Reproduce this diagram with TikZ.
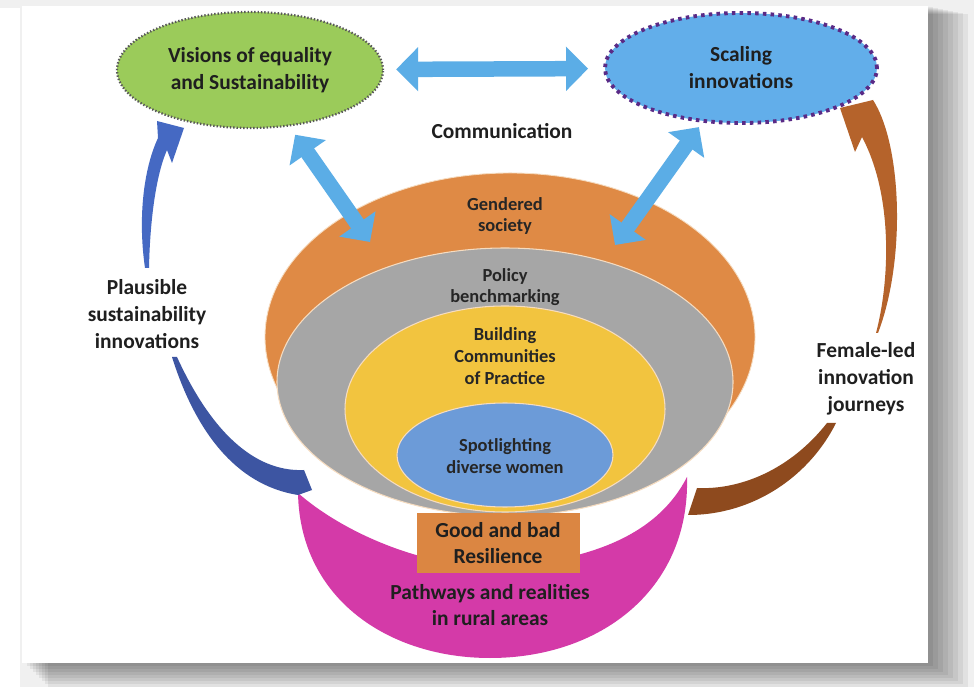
\documentclass[tikz,border=0pt]{standalone}
\usepackage{fontspec}
\setmainfont{Carlito}
\usetikzlibrary{shapes.geometric,arrows.meta,positioning}

\definecolor{leaf}{HTML}{9BCB5A}
\definecolor{sky}{HTML}{62AEEA}
\definecolor{plum}{HTML}{5A2A86}
\definecolor{commblue}{HTML}{5BADE6}
\definecolor{rust}{HTML}{DF8A45}
\definecolor{stone}{HTML}{A6A6A6}
\definecolor{sun}{HTML}{F2C43F}
\definecolor{steel}{HTML}{6C9BD8}
\definecolor{orchid}{HTML}{D43AA8}
\definecolor{boxorange}{HTML}{DB8642}
\definecolor{navyA}{HTML}{4569C3}
\definecolor{navyB}{HTML}{3D55A2}
\definecolor{brownA}{HTML}{B5632B}
\definecolor{brownB}{HTML}{8E4A1E}
\definecolor{rim}{HTML}{F6DCC0}

\tikzset{
  bigtext/.style={font=\fontsize{12.2}{15.3}\selectfont\bfseries, text=black!88, align=center},
  smalltext/.style={font=\fontsize{10.5}{12.3}\selectfont\bfseries, text=black!85, align=center},
  goal/.style={ellipse, inner sep=0pt, bigtext},
  comm/.style={commblue, line width=3.1mm,
    {Triangle[width=8.6mm,length=4.4mm]}-{Triangle[width=8.6mm,length=4.4mm]}}
}

\begin{document}
\begin{tikzpicture}[x=0.2mm, y=-0.2mm]

  \useasboundingbox (0,0) rectangle (974,687);

  % card and its shadow
  \fill[black!6] (0,0) rectangle (974,687);
  \fill[white] (0,8) rectangle (20,687);
  \foreach \k in {1,...,8}
    \fill[black, opacity=0.06] (24+3*\k, 6+\k) rectangle (928+5*\k, 663+3*\k);
  \fill[white] (22,6) rectangle (928,663);

  % rural pathways (bottom crescent)
  \fill[orchid] (298,493) .. controls (300,600) and (390,658) .. (490,658)
    .. controls (600,658) and (690,590) .. (687,477)
    .. controls (660,530) and (600,560) .. (500,567)
    .. controls (420,568) and (340,530) .. (298,493) -- cycle;

  % nested rings
  \filldraw[fill=rust, draw=rim, line width=0.5pt] (510,337) ellipse [x radius=49mm, y radius=32.8mm];
  \filldraw[fill=stone, draw=rim, line width=0.6pt] (505,382) ellipse [x radius=45.6mm, y radius=26.8mm];
  \filldraw[fill=sun, draw=rim, line width=0.6pt] (505,409) ellipse [x radius=32mm, y radius=20.6mm];
  \filldraw[fill=steel, draw=rim, line width=0.6pt] (505,455) ellipse [x radius=21.6mm, y radius=10.4mm];

  \node[smalltext] (gender) at (505,216) {Gendered\\society};
  \node[smalltext] (policy) at (505,287) {Policy\\benchmarking};
  \node[smalltext] (building) at (505,356) {Building\\Communities\\of Practice};
  \node[smalltext] (spot) at (505,456) {Spotlighting\\diverse women};

  \node[bigtext, fill=boxorange, minimum width=32.6mm, minimum height=12mm, inner sep=0pt]
    (resil) at (498,543) {Good and bad\\Resilience};
  \node[bigtext] (pathways) at (490,605) {Pathways and realities\\in rural areas};

  % top goals
  \node[goal, fill=leaf, draw=black!65, line width=1.3pt, dash pattern=on 0.8pt off 1.1pt,
    minimum width=53.2mm, minimum height=23.2mm] (visions) at (250,70)
    {Visions of equality\\and Sustainability};
  \node[goal, fill=sky, draw=plum, line width=2.2pt, dash pattern=on 2pt off 2.4pt,
    minimum width=54.4mm, minimum height=22mm] (scaling) at (741,68)
    {Scaling\\innovations};

  \node[bigtext] (comm) at (502,131) {Communication};

  \coordinate (lbot) at (370,242);
  \coordinate (rbot) at (615,245);

  \draw[comm, shorten <=2.4mm, shorten >=3mm] (visions) -- (scaling);
  \draw[comm, shorten <=2mm] (visions) -- (lbot);
  \draw[comm, shorten <=1.1mm] (scaling) -- (rbot);

  % plausible sustainability innovations (left)
  \node[bigtext] (plaus) at (147,314) {Plausible\\sustainability\\innovations};
  \fill[navyA] (145,268) .. controls (138,220) and (143,170) .. (158,138) -- (157,121)
    -- (184,128) -- (172,163) -- (167,150) .. controls (156,175) and (150,220) .. (149,268) -- cycle;
  \fill[navyB] (172,357) .. controls (195,430) and (235,485) .. (298,495) -- (312,490)
    -- (304,470) .. controls (260,472) and (215,440) .. (177,357) -- cycle;

  % female-led innovation journeys (right)
  \node[bigtext] (female) at (866,379) {Female-led\\innovation\\journeys};
  \fill[brownA] (876,333) .. controls (890,280) and (893,195) .. (862,137) -- (855,152)
    -- (840,108) -- (873,100) .. controls (902,145) and (906,260) .. (878,333) -- cycle;
  \fill[brownB] (827,423) .. controls (790,470) and (740,490) .. (697,488) -- (688,515)
    .. controls (755,515) and (810,475) .. (836,423) -- cycle;

\end{tikzpicture}
\end{document}
